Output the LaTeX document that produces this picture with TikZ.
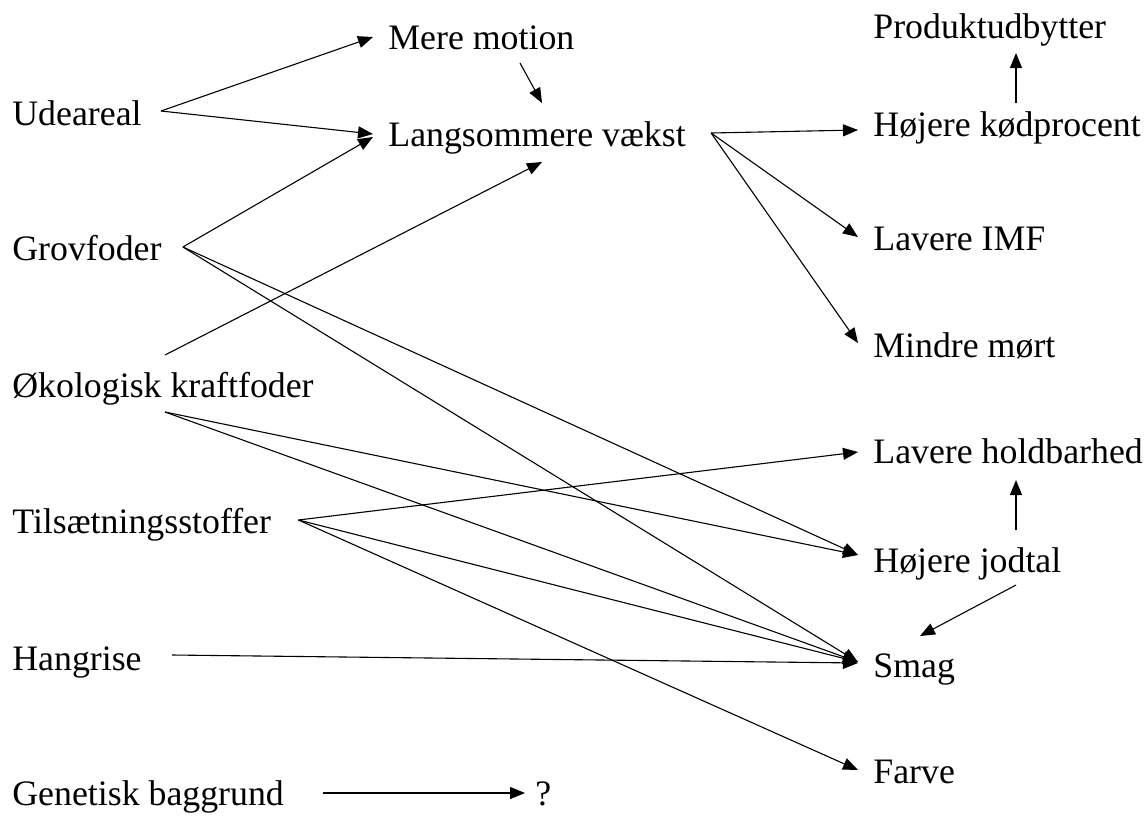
\documentclass[tikz,border=0pt]{standalone}
\usepackage{fontspec}
\setmainfont{Liberation Serif}
\usetikzlibrary{arrows.meta}
\begin{document}
\begin{tikzpicture}[x=0.5pt,y=-0.5pt,
  lbl/.style={anchor=base west,inner sep=0pt,font=\fontsize{17.9pt}{21pt}\selectfont},
  conn/.style={line width=0.55pt,-{Triangle[length=7.5pt,width=6pt]}}]
\useasboundingbox (0,0) rectangle (1148,816);
% left column
\node[lbl] (ude)  at (12,125) {Udeareal};
\node[lbl] (grov) at (12,260) {Grovfoder};
\node[lbl] (oko)  at (12,397) {Økologisk kraftfoder};
\node[lbl] (tils) at (12,533) {Tilsætningsstoffer};
\node[lbl] (hang) at (12,670) {Hangrise};
\node[lbl] (gen)  at (12,805) {Genetisk baggrund};
% middle
\node[lbl] (mere) at (388,49) {Mere motion};
\node[lbl] (lang) at (388,146) {Langsommere vækst};
\node[lbl] (q)    at (535,805) {?};
% right column
\node[lbl] (prod) at (873,38) {Produktudbytter};
\node[lbl] (hkp)  at (873,136) {Højere kødprocent};
\node[lbl] (imf)  at (873,250) {Lavere IMF};
\node[lbl] (mort) at (873,357) {Mindre mørt};
\node[lbl] (hold) at (873,463) {Lavere holdbarhed};
\node[lbl] (jod)  at (873,572) {Højere jodtal};
\node[lbl] (smag) at (873,677) {Smag};
\node[lbl] (farve) at (873,783) {Farve};
% connectors
\draw[conn] ([shift={(19,-14)}]ude.base east) -- ([shift={(-15,-12)}]mere.base west);
\draw[conn] ([shift={(19,-14)}]ude.base east) -- ([shift={(-15,-12)}]lang.base west);
\draw[conn] ([shift={(21,-13)}]grov.base east) -- ([shift={(-15,-9)}]lang.base west);
\draw[conn] ([shift={(132,14)}]mere.base west) -- ([shift={(154,-43)}]lang.base west);
\draw[conn] ([shift={(153,-42)}]oko.base west) -- ([shift={(154,16)}]lang.base west);
\draw[conn] ([shift={(25,-13)}]lang.base east) -- ([shift={(-15,-6)}]hkp.base west);
\draw[conn] ([shift={(25,-13)}]lang.base east) -- ([shift={(-15,-13)}]imf.base west);
\draw[conn] ([shift={(25,-13)}]lang.base east) -- ([shift={(-15,-14)}]mort.base west);
\draw[conn] ([shift={(143,-33)}]hkp.base west) -- ([shift={(143,15)}]prod.base west);
\draw[conn] ([shift={(21,-13)}]grov.base east) -- ([shift={(-15,-17)}]jod.base west);
\draw[conn] ([shift={(21,-13)}]grov.base east) -- ([shift={(-15,-15)}]smag.base west);
\draw[conn] ([shift={(153,15)}]oko.base west) -- ([shift={(-15,-17)}]jod.base west);
\draw[conn] ([shift={(153,15)}]oko.base west) -- ([shift={(-15,-15)}]smag.base west);
\draw[conn] ([shift={(27,-13)}]tils.base east) -- ([shift={(-15,-11)}]hold.base west);
\draw[conn] ([shift={(27,-13)}]tils.base east) -- ([shift={(-15,-15)}]smag.base west);
\draw[conn] ([shift={(27,-13)}]tils.base east) -- ([shift={(-15,-13)}]farve.base west);
\draw[conn] ([shift={(30,-15)}]hang.base east) -- ([shift={(-15,-14)}]smag.base west);
\draw[conn] ([shift={(143,-42)}]jod.base west) -- ([shift={(143,17)}]hold.base west);
\draw[conn] ([shift={(143,13)}]jod.base west) -- ([shift={(47,-41)}]smag.base west);
\draw[conn] ([shift={(39,-12)}]gen.base east) -- ([shift={(-10,-12)}]q.base west);
\end{tikzpicture}
\end{document}
